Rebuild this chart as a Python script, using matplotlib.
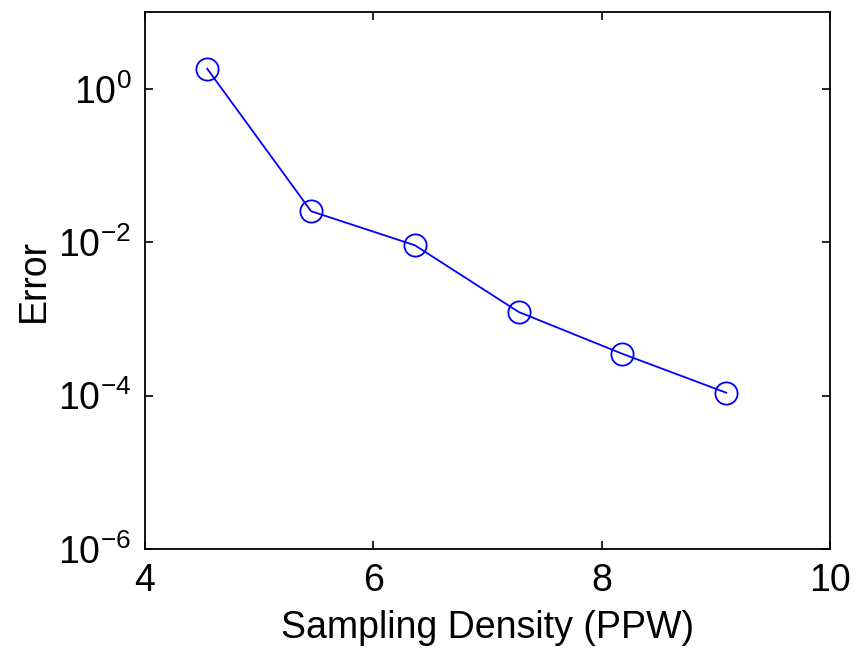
import matplotlib
matplotlib.use("Agg")
import matplotlib.pyplot as plt
from matplotlib.ticker import NullLocator, FixedLocator

# data
ppw = [4.545, 5.455, 6.364, 7.273, 8.182, 9.091]
error = [1.82, 0.0253, 0.0091, 0.00123, 0.00035, 0.000109]
x_ticks = [4, 6, 8, 10]
y_ticks = [1e-6, 1e-4, 1e-2, 1e0]

plt.rcParams["font.family"] = ["Liberation Sans", "DejaVu Sans"]
plt.rcParams["mathtext.fontset"] = "custom"
plt.rcParams["mathtext.rm"] = "Liberation Sans"
plt.rcParams["mathtext.it"] = "Liberation Sans"

fig = plt.figure(figsize=(8.56, 6.52), dpi=100)
ax = fig.add_axes([145 / 856, 1 - 549 / 652, 685 / 856, 537 / 652])

ax.semilogy(ppw, error, color="#0000ff", linewidth=1.3, marker="o",
            markersize=16, markerfacecolor="none", markeredgewidth=1.3)

ax.set_xlim(4, 10)
ax.set_ylim(1e-6, 1e1)
ax.xaxis.set_major_locator(FixedLocator(x_ticks))
ax.yaxis.set_major_locator(FixedLocator(y_ticks))
ax.yaxis.set_minor_locator(NullLocator())
ax.set_yticklabels([r"$10^{-6}$", r"$10^{-4}$", r"$10^{-2}$", r"$10^{0}$"])

ax.tick_params(direction="in", length=6, width=1.2, labelsize=27,
               top=True, right=True, pad=10)
for s in ax.spines.values():
    s.set_linewidth(1.3)

ax.set_xlabel("Sampling Density (PPW)", fontsize=27, labelpad=8)
ax.set_ylabel("Error", fontsize=27, labelpad=4)

fig.savefig("out.png", dpi=100)
